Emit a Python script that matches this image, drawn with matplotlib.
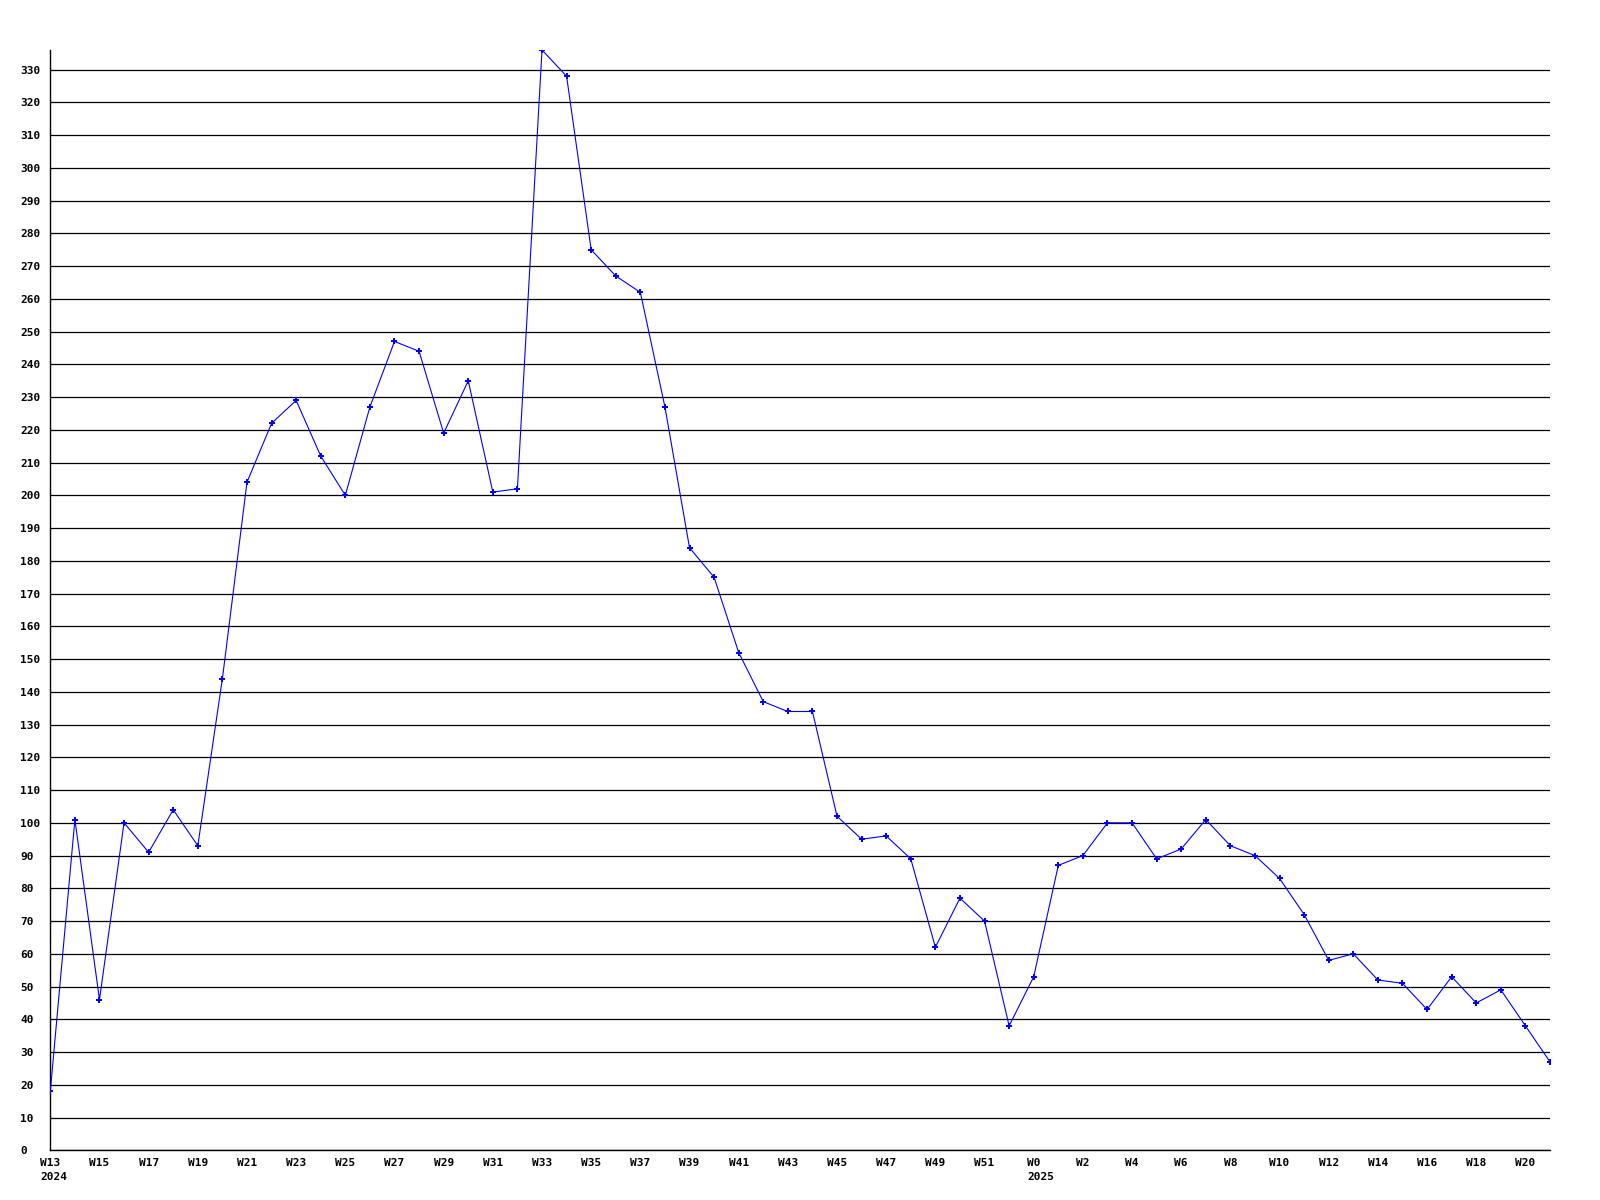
import matplotlib
matplotlib.use("Agg")
import matplotlib.pyplot as plt

weeks_2024 = [f"W{w}" for w in range(13, 53)]
weeks_2025 = [f"W{w}" for w in range(0, 22)]
weeks = weeks_2024 + weeks_2025

values = [18, 101, 46, 100, 91, 104, 93, 144, 204, 222,
          229, 212, 200, 227, 247, 244, 219, 235, 201, 202,
          336, 328, 275, 267, 262, 227, 184, 175, 152, 137,
          134, 134, 102, 95, 96, 89, 62, 77, 70, 38,
          53, 87, 90, 100, 100, 89, 92, 101, 93, 90,
          83, 72, 58, 60, 52, 51, 43, 53, 45, 49,
          38, 27]

yticks = list(range(0, 331, 10))

font = {"family": "DejaVu Sans Mono", "weight": "bold", "size": 8}

fig = plt.figure(figsize=(16, 12), dpi=100)
ax = fig.add_axes([50.3 / 1600, 1 - 1150.3 / 1200, (1550 - 50.3) / 1600, (1150.3 - 50) / 1200])

x = list(range(len(values)))
ax.plot(x, values, color=(0, 0, 1), lw=0.8, marker="P", markersize=4.5,
        markeredgewidth=0, zorder=3)

ax.set_xlim(0, len(values) - 1)
ax.set_ylim(0, 336)
ax.set_yticks(yticks)
ax.set_yticklabels([str(v) for v in yticks], fontdict=font)
for lbl in ax.get_yticklabels():
    lbl.set_horizontalalignment("left")
ax.tick_params(axis="y", length=0, pad=21.5)

xt = list(range(0, len(weeks), 2))
ax.set_xticks(xt)
ax.set_xticklabels([weeks[i] for i in xt], fontdict=font)
ax.tick_params(axis="x", length=0, pad=5.5)

ax.yaxis.grid(True, color="black", lw=0.9)
ax.set_axisbelow(True)
for s in ["top", "right"]:
    ax.spines[s].set_visible(False)
for s in ["left", "bottom"]:
    ax.spines[s].set_color("black")
    ax.spines[s].set_linewidth(1.0)

for i, w in enumerate(weeks):
    if i in (0, 40):
        yr = "2024" if i == 0 else "2025"
        half = len(w) * 6.7 / 2
        ax.annotate(yr, xy=(i, 0), xycoords=("data", "axes fraction"),
                    xytext=(-half, -22), textcoords="offset pixels",
                    ha="left", va="top", **font)

fig.savefig("out.png", dpi=100, facecolor="white")
